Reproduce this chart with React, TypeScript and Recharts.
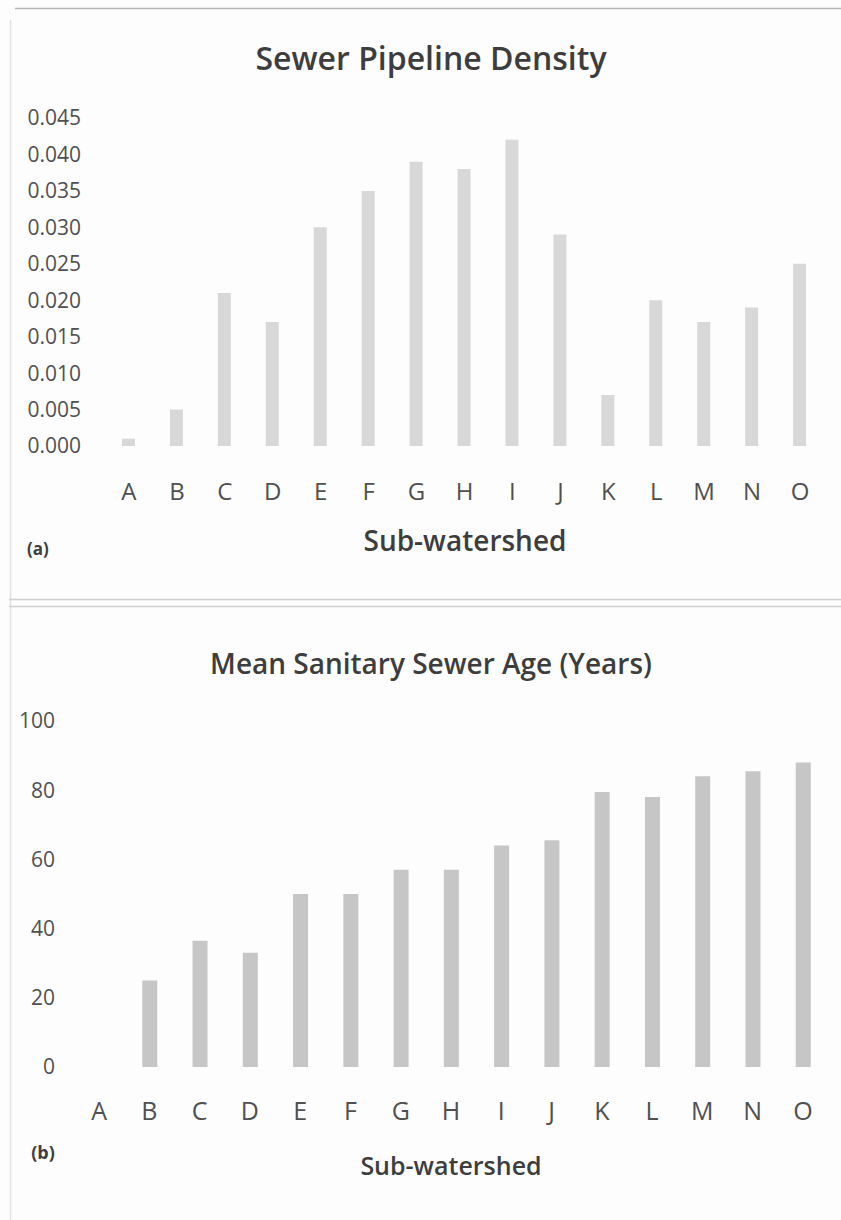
import { BarChart, Bar, XAxis, YAxis } from "recharts";

const categories = ["A", "B", "C", "D", "E", "F", "G", "H", "I", "J", "K", "L", "M", "N", "O"];
const densityValues = [0.001, 0.005, 0.021, 0.017, 0.03, 0.035, 0.039, 0.038, 0.042, 0.029, 0.007, 0.02, 0.017, 0.019, 0.025];
const densityTicks = [0, 0.005, 0.01, 0.015, 0.02, 0.025, 0.03, 0.035, 0.04, 0.045];
const ageValues = [0, 25, 36.5, 33, 50, 50, 57, 57, 64, 65.5, 79.5, 78, 84, 85.5, 88];
const ageTicks = [0, 20, 40, 60, 80, 100];

const densityData = categories.map((name, i) => ({ name, value: densityValues[i] }));
const ageData = categories.map((name, i) => ({ name, value: ageValues[i] }));

const FONT = "'Open Sans', 'Noto Sans', sans-serif";
const TICK = "#505050";
const TITLE = "#3d3d3d";

export default function App() {
  return (
    <div style={{ position: "relative", width: 841, height: 1220, background: "#fdfdfd", fontFamily: FONT }}>
      <style>{"body{margin:0}"}</style>

      <div style={{ position: "absolute", left: 0, top: 0 }}>
        <BarChart width={841} height={600} data={densityData} margin={{ top: 118, right: 17, bottom: 0, left: 0 }}>
          <XAxis
            dataKey="name"
            height={154}
            interval={0}
            axisLine={false}
            tickLine={false}
            tickSize={0}
            tickMargin={37}
            tick={{ fontSize: 24, fill: TICK, fontFamily: FONT }}
          />
          <YAxis
            width={105}
            domain={[0, 0.045]}
            ticks={densityTicks}
            interval={0}
            axisLine={false}
            tickLine={false}
            tickSize={0}
            tickMargin={24}
            tickFormatter={(v: number) => v.toFixed(3)}
            tick={{ fontSize: 21, fill: TICK, fontFamily: FONT }}
          />
          <Bar dataKey="value" fill="#d8d8d8" barSize={13} isAnimationActive={false} />
        </BarChart>
      </div>

      <div style={{ position: "absolute", left: 0, top: 600 }}>
        <BarChart width={841} height={620} data={ageData} margin={{ top: 121, right: 13, bottom: 0, left: 0 }}>
          <XAxis
            dataKey="name"
            height={153}
            interval={0}
            axisLine={false}
            tickLine={false}
            tickSize={0}
            tickMargin={35}
            tick={{ fontSize: 25, fill: TICK, fontFamily: FONT }}
          />
          <YAxis
            width={74}
            domain={[0, 100]}
            ticks={ageTicks}
            interval={0}
            axisLine={false}
            tickLine={false}
            tickSize={0}
            tickMargin={19}
            tick={{ fontSize: 21, fill: TICK, fontFamily: FONT }}
          />
          <Bar dataKey="value" fill="#c6c6c6" barSize={15} isAnimationActive={false} />
        </BarChart>
      </div>

      {/* frame lines and text labels */}
      <svg width={841} height={1220} style={{ position: "absolute", left: 0, top: 0, pointerEvents: "none" }}>
        <line x1={15} y1={8.5} x2={841} y2={8.5} stroke="#b5b5b5" strokeWidth={1.5} />
        <line x1={10.5} y1={20} x2={10.5} y2={1220} stroke="#e2e2e2" strokeWidth={1.5} />
        <line x1={9} y1={599.5} x2={841} y2={599.5} stroke="#d0d0d0" strokeWidth={1.5} />
        <line x1={9} y1={606.5} x2={841} y2={606.5} stroke="#d0d0d0" strokeWidth={1.5} />

        <text x={431} y={70} textAnchor="middle" fontSize={32} fontWeight={600} fill={TITLE} fontFamily={FONT}>
          Sewer Pipeline Density
        </text>
        <text x={465} y={551} textAnchor="middle" fontSize={28} fontWeight={600} fill={TITLE} fontFamily={FONT}>
          Sub-watershed
        </text>
        <text x={38} y={555} textAnchor="middle" fontSize={17} fontWeight={700} fill={TITLE} fontFamily={FONT}>
          (a)
        </text>

        <text x={431} y={674} textAnchor="middle" fontSize={28} fontWeight={600} fill={TITLE} fontFamily={FONT}>
          Mean Sanitary Sewer Age (Years)
        </text>
        <text x={451} y={1175} textAnchor="middle" fontSize={25} fontWeight={600} fill={TITLE} fontFamily={FONT}>
          Sub-watershed
        </text>
        <text x={43} y={1159} textAnchor="middle" fontSize={18} fontWeight={700} fill={TITLE} fontFamily={FONT}>
          (b)
        </text>
      </svg>
    </div>
  );
}
